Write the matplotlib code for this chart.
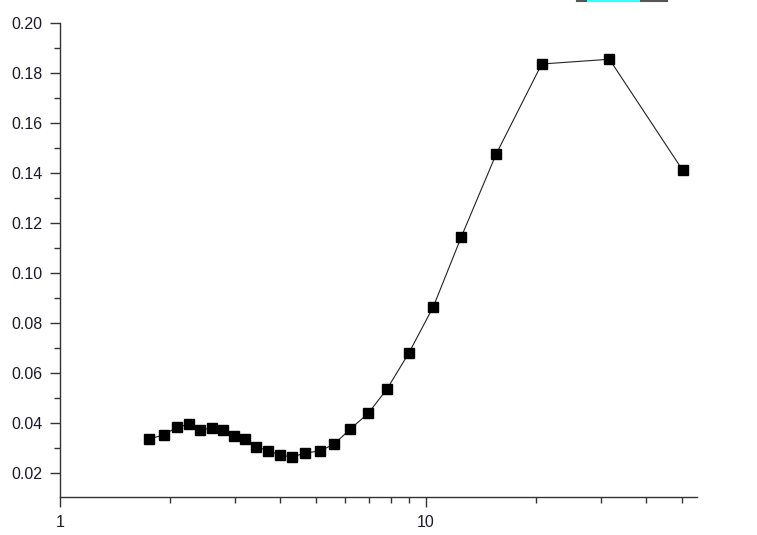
import matplotlib
matplotlib.use("Agg")
import matplotlib.pyplot as plt
from matplotlib.lines import Line2D
from matplotlib.ticker import LogLocator, FixedLocator, MultipleLocator, NullFormatter, FuncFormatter

plt.rcParams['font.family'] = ['Liberation Sans', 'DejaVu Sans']

# Data
x_vals = [1.747, 1.920, 2.087, 2.256, 2.417, 2.597, 2.789, 2.988, 3.202, 3.439,
          3.701, 3.992, 4.313, 4.680, 5.123, 5.617, 6.212, 6.957, 7.824, 8.969,
          10.47, 12.49, 15.54, 20.71, 31.70, 50.27]
y_vals = [0.0336, 0.0352, 0.0383, 0.0395, 0.0373, 0.0379, 0.0372, 0.0349, 0.0335, 0.0305,
          0.0289, 0.0272, 0.0264, 0.0280, 0.0288, 0.0316, 0.0376, 0.0439, 0.0536, 0.0679,
          0.0865, 0.1145, 0.1475, 0.1836, 0.1855, 0.1411]
x_major = [1, 10]
y_major = [0.02, 0.04, 0.06, 0.08, 0.10, 0.12, 0.14, 0.16, 0.18, 0.20]

W, H = 757, 535
fig = plt.figure(figsize=(W / 100, H / 100), dpi=100)
ax = fig.add_axes([60 / W, 38 / H, 637 / W, 474 / H])

ax.plot(x_vals, y_vals, color="#222222", lw=0.8, marker="s", markersize=7.8,
        markerfacecolor="black", markeredgecolor="black", clip_on=False)

ax.set_xscale("log")
ax.set_xlim(1, 55.0)
ax.set_ylim(0.0104, 0.2)

ax.xaxis.set_major_locator(FixedLocator(x_major))
ax.xaxis.set_minor_locator(LogLocator(base=10, subs=range(2, 10)))
ax.xaxis.set_major_formatter(FuncFormatter(lambda v, p: f"{v:g}"))
ax.xaxis.set_minor_formatter(NullFormatter())

ax.yaxis.set_major_locator(FixedLocator(y_major))
ax.yaxis.set_minor_locator(MultipleLocator(0.01))
ax.yaxis.set_major_formatter(FuncFormatter(lambda v, p: f"{v:.2f}"))

for side in ["top", "right"]:
    ax.spines[side].set_visible(False)
for side in ["left", "bottom"]:
    ax.spines[side].set_linewidth(1.0)
    ax.spines[side].set_color("#333333")

ax.tick_params(which="major", direction="out", length=7, width=1.0, color="#333333",
               labelsize=11.5, labelcolor="#1a1a2a")
ax.tick_params(axis="x", which="major", pad=6)
ax.tick_params(axis="y", which="major", pad=5.5)
ax.tick_params(which="minor", direction="out", length=4, width=1.0, color="#333333")

# clipped legend remnant at the very top
fig.add_artist(Line2D([577 / W, 667 / W], [1 - 0.8 / H, 1 - 0.8 / H],
                      color="#555555", lw=1.5, transform=fig.transFigure))
fig.add_artist(Line2D([588 / W, 639 / W], [1 - 0.8 / H, 1 - 0.8 / H],
                      color="#33ffff", lw=1.5, transform=fig.transFigure))

fig.savefig("out.png", dpi=100)
